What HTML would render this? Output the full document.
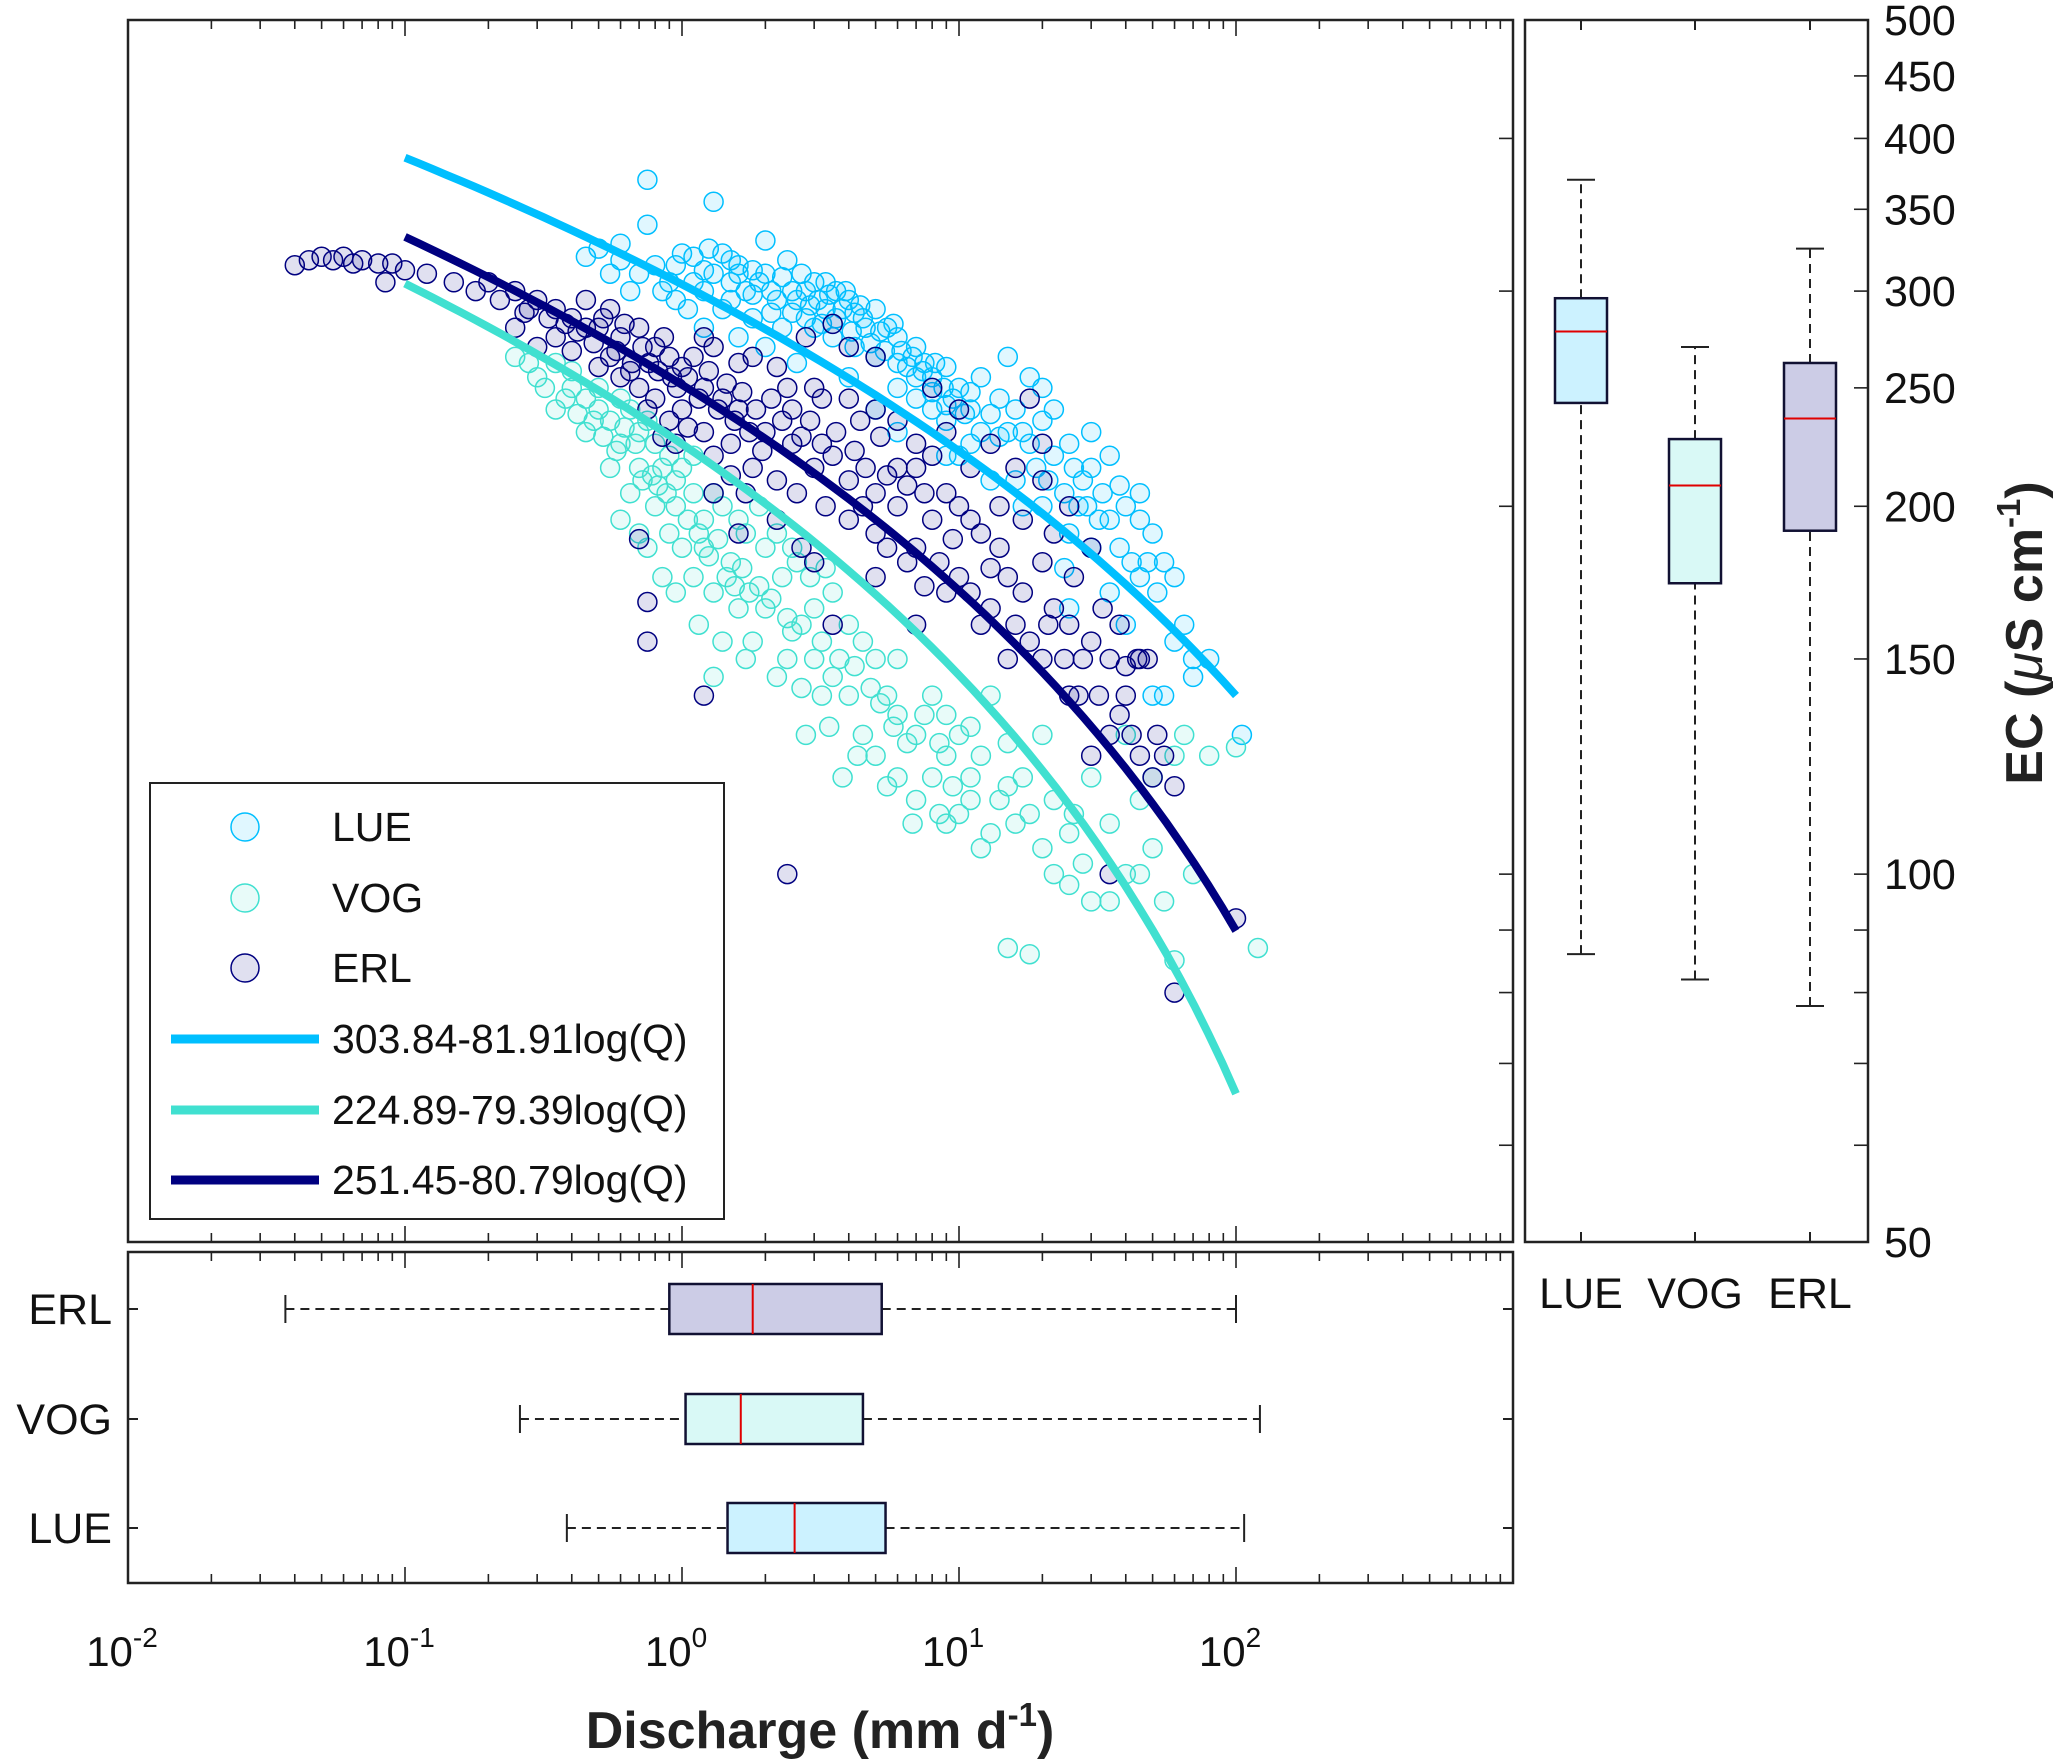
<!DOCTYPE html>
<html><head><meta charset="utf-8"><style>
html,body{margin:0;padding:0;background:#fff;}
svg{display:block;font-family:"Liberation Sans",Arial,sans-serif;}
</style></head><body>
<svg id="fig" width="2067" height="1763" viewBox="0 0 2067 1763" xmlns="http://www.w3.org/2000/svg"></svg>
<script>
// ---------- data ----------
const seriesNames = ["LUE","VOG","ERL"];
const seriesColors = ["#00BFFF","#40E0D0","#000080"];
const fitA = [303.84, 224.89, 251.45];
const fitB = [81.91, 79.39, 80.79];
const fitLabels = ["303.84-81.91log(Q)","224.89-79.39log(Q)","251.45-80.79log(Q)"];
const xTickExp = [-2,-1,0,1,2];
const ecTicks = [50,100,150,200,250,300,350,400,450,500];
const lue = [[0.75,370],[1.3,355],[0.75,340],[2,330],[0.45,320],[0.5,325],[0.6,318],[0.7,310],[0.8,315],[0.9,305],[1,322],[1.1,320],[1.2,300],[1.3,310],[1.5,305],[1.7,300],[2,310],[2.2,295],[2.5,300],[3,305],[3.3,290],[4,295],[4.5,285],[5,290],[1.4,290],[1.8,285],[2.3,280],[2.8,285],[3.5,275],[4.2,270],[5,265],[6,275],[6.5,260],[7,270],[8,255],[9,260],[10,250],[11,240],[12,255],[14,245],[15,230],[16,240],[18,225],[20,235],[22,220],[25,225],[28,210],[30,215],[33,205],[35,220],[40,200],[45,195],[50,190],[55,180],[60,175],[70,150],[80,150],[105,130],[70,145],[12,230],[9,235],[7,245],[6,250],[5,240],[10,220],[13,210],[17,200],[20,200],[25,190],[30,185],[35,170],[45,175],[40,160],[50,140],[18,255],[15,265],[20,250],[3,280],[2,270],[1.6,275],[4,255],[0.95,295],[0.65,300],[1.2,280],[2.6,262],[8,240],[11,225],[30,230],[45,205],[60,155],[55,140],[25,165],[35,195],[16,210],[9,220],[6,230],[1.6,315],[2.4,318],[3.6,300],[5.5,280],[7.5,262],
[1.4,322],[1.5,318],[1.6,310],[1.8,312],[1.9,305],[2.1,300],[2.3,308],[2.6,295],[2.8,300],[3.1,295],[3.4,298],[3.8,290],[4.2,288],[4.6,280],[5.2,278],[5.8,282],[6.2,268],[6.8,265],[7.4,258],[8.2,262],[8.8,250],[9.5,245],[10.5,238],[1.5,295],[1.8,298],[2.1,288],[2.5,288],[2.9,292],[3.2,282],[3.6,285],[4.1,278],[4.8,272],[5.4,268],[6,262],[7,255],[8,248],[9,242],[11,248],[13,238],[14,228],[17,230],[19,215],[21,210],[24,205],[27,200],[32,195],[38,185],[42,180],[1.1,305],[1.2,312],[0.85,300],[1.05,290],[2.7,310],[3.3,305],[3.9,300],[4.4,292],[0.55,310],[0.6,328],[0.95,315],[1.25,325],[22,240],[26,215],[29,200],[38,208],[48,180],[52,170],[65,160],[24,178]];
const vog = [[0.25,265],[0.3,255],[0.35,262],[0.4,250],[0.45,245],[0.5,240],[0.55,235],[0.6,245],[0.7,230],[0.8,225],[0.9,220],[1,215],[1.1,205],[0.6,225],[0.7,215],[0.8,200],[0.9,190],[1,185],[1.1,175],[1.3,170],[1.5,180],[1.2,195],[1.4,200],[1.7,190],[2,185],[2.3,175],[2.6,180],[3,165],[3.5,170],[4,160],[4.5,155],[2,165],[2.5,158],[3,150],[3.5,145],[4,140],[5,150],[5.5,140],[6,135],[7,130],[8,140],[9,125],[10,130],[11,120],[12,125],[14,115],[15,118],[16,110],[18,112],[20,105],[22,100],[25,108],[28,102],[30,95],[35,110],[40,100],[45,115],[50,120],[55,95],[60,125],[65,130],[80,125],[100,127],[120,87],[60,85],[70,100],[15,87],[18,86],[25,98],[12,105],[9,110],[6,120],[4.5,130],[3.2,140],[2.2,145],[1.8,155],[1.6,165],[5,125],[7,115],[8,120],[10,112],[13,140],[20,130],[30,120],[40,130],[0.35,240],[0.45,230],[0.55,215],[0.65,205],[0.75,185],[0.85,175],[1.2,185],[6,150],[3.8,120],[2.8,130],
[0.28,262],[0.32,250],[0.38,245],[0.42,238],[0.48,235],[0.52,228],[0.58,222],[0.62,232],[0.68,225],[0.72,210],[0.78,212],[0.82,208],[0.88,205],[0.95,200],[1.05,195],[1.15,190],[1.25,182],[1.35,188],[1.45,175],[1.55,172],[1.65,178],[1.75,170],[1.9,172],[2.1,168],[2.4,162],[2.7,160],[3.2,155],[3.7,150],[4.2,148],[4.8,142],[5.2,138],[5.8,132],[6.5,128],[7.5,135],[8.5,128],[9.5,118],[0.5,250],[0.4,258],[0.65,240],[0.75,235],[0.85,215],[0.95,210],[1.1,220],[1.3,205],[1.6,195],[1.9,200],[2.2,190],[2.5,185],[2.9,175],[3.3,178],[0.95,170],[1.15,160],[1.4,155],[1.7,150],[2.4,150],[2.7,142],[3.4,132],[4.3,125],[5.5,118],[6.8,110],[8.5,112],[11,115],[13,108],[17,120],[22,115],[26,112],[35,95],[45,100],[50,105],[9,135],[11,132],[15,128],[0.6,195],[0.7,190],[1.3,145]];
const erl = [[0.04,315],[0.045,318],[0.05,320],[0.055,318],[0.06,320],[0.065,316],[0.07,318],[0.08,316],[0.085,305],[0.09,316],[0.1,312],[0.12,310],[0.15,305],[0.18,300],[0.2,305],[0.22,295],[0.25,300],[0.28,290],[0.3,295],[0.35,290],[0.4,285],[0.45,295],[0.5,280],[0.55,290],[0.6,275],[0.7,280],[0.8,270],[0.9,265],[1,260],[0.5,260],[0.6,255],[0.7,250],[0.8,245],[0.9,235],[1,240],[1.2,250],[1.4,245],[1.6,240],[1.2,230],[1.5,225],[1.8,215],[2,230],[2.5,225],[3,215],[3.5,220],[4,210],[5,205],[6,200],[2.2,260],[3,250],[4,245],[5,240],[6,235],[7,225],[8,220],[9,205],[10,200],[11,195],[12,190],[14,185],[15,175],[17,170],[20,180],[22,165],[25,160],[28,150],[30,155],[35,150],[40,148],[45,150],[48,150],[40,140],[50,120],[55,125],[60,118],[35,130],[30,125],[25,140],[20,150],[15,150],[12,160],[9,170],[7,185],[5,190],[4,195],[3,180],[3.5,160],[0.7,188],[0.75,167],[0.75,155],[1.2,140],[2.4,100],[35,100],[60,80],[100,92],[8,250],[10,240],[13,225],[16,215],[20,210],[25,200],[30,185],[18,245],[20,225],[5,265],[4,270],[2.8,275],[3.5,282],[0.3,270],[0.35,275],[0.4,268],[0.25,280],[1.3,270],[1.8,265],[6,215],[8,195],[10,175],[13,165],[7,160],[5,175],
[0.42,278],[0.48,272],[0.52,285],[0.58,268],[0.62,282],[0.66,262],[0.72,270],[0.76,262],[0.82,258],[0.86,275],[0.92,255],[0.96,250],[1.05,255],[1.1,265],[1.15,245],[1.25,258],[1.35,240],[1.45,252],[1.55,235],[1.65,248],[1.75,230],[1.85,240],[1.95,222],[2.1,245],[2.3,235],[2.5,240],[2.7,228],[2.9,235],[3.2,225],[3.6,230],[4.2,222],[4.6,215],[5.5,212],[6.5,208],[7.5,205],[0.55,265],[0.65,258],[0.75,240],[0.85,228],[0.95,225],[1.05,232],[1.3,220],[1.5,212],[1.7,205],[2.2,210],[2.6,205],[3.3,200],[4.5,200],[5.5,185],[6.5,180],[7.5,172],[8.5,180],[9.5,188],[11,170],[13,178],[16,160],[18,155],[21,160],[24,150],[27,140],[32,140],[38,135],[42,130],[45,125],[52,130],[0.45,280],[0.38,282],[0.33,285],[0.27,288],[1.2,275],[1.6,262],[2.4,250],[3.2,245],[4.4,235],[5.2,228],[7,215],[9,230],[11,215],[14,200],[17,195],[22,190],[26,175],[33,165],[38,160],[44,150],[1.6,190],[2.2,195],[2.7,185],[1.3,205]];
// box stats [min, q1, median, q3, max]
const qBoxes = [[0.384,1.46,2.55,5.43,107],[0.26,1.03,1.63,4.5,122],[0.037,0.90,1.8,5.26,100]];
const ecBoxes = [[86,243,278,296,370],[82,173,208,227,270],[78,191,236,262,325]];
const boxFills = ["#CCF2FF","#D9F9F6","#CCCCE6"];

// ---------- layout ----------
const svg = document.getElementById('fig');
const NS = "http://www.w3.org/2000/svg";
const M = {l:128, r:1513, t:20, b:1242};
const B = {t:1252, b:1583};
const R = {l:1525, r:1868};
const xQ = q => M.l + (Math.log10(q)+2)*(M.r-M.l)/5;
const yEC = v => M.b - Math.log10(v/50)*(M.b-M.t);
const rowY = [1528,1419,1309];
const colX = [1581,1695,1810];

function mk(tag, attrs, parent){
  const e = document.createElementNS(NS, tag);
  for (const k in attrs) e.setAttribute(k, attrs[k]);
  (parent||svg).appendChild(e);
  return e;
}
function line(x1,y1,x2,y2,extra,p){ return mk('line',Object.assign({x1,y1,x2,y2,stroke:'#222','stroke-width':2},extra||{}),p); }

// ---------- main scatter ----------
const gMain = mk('g',{});


const clip = mk('clipPath',{id:'mc'}); mk('rect',{x:M.l,y:M.t,width:M.r-M.l,height:M.b-M.t},clip);
const pts = [lue, vog, erl];
pts.forEach((arr,si)=>{
  const g = mk('g',{'clip-path':'url(#mc)'},gMain);
  
  
  arr.forEach(p=>{
    const c = mk('circle',{cx:xQ(p[0]).toFixed(1),cy:yEC(p[1]).toFixed(1),r:9.5,fill:seriesColors[si],'fill-opacity':0.12,stroke:seriesColors[si],'stroke-width':1.5},g);
    
    
  });
});
// fits
fitA.forEach((a,si)=>{
  let d='';
  for(let i=0;i<=60;i++){ const lq=-1+3*i/60; const q=Math.pow(10,lq); const v=a-fitB[si]*lq; d+=(i?'L':'M')+xQ(q).toFixed(1)+','+yEC(v).toFixed(1); }
  const p = mk('path',{d,fill:'none',stroke:seriesColors[si],'stroke-width':8},gMain);
  
  
});
const mf = mk('rect',{x:M.l,y:M.t,width:M.r-M.l,height:M.b-M.t,fill:'none',stroke:'#222','stroke-width':2.5},gMain);



function xTicks(yTop, yBot){
  for(let e=-2;e<3;e++){
    for(let m=1;m<10;m++){
      const x = xQ(m*Math.pow(10,e)); const L = m===1?16:9;
      if (x> M.r) continue;
      line(x,yTop,x,yTop+L,{'stroke-width':1.6});
      line(x,yBot,x,yBot-L,{'stroke-width':1.6});
    }
  }
}
xTicks(M.t, M.b);
xTicks(B.t, B.b);
const mainTicks=[60,70,80,90,100,200,300,400];
mainTicks.forEach(v=>{ const y=yEC(v); line(M.r,y,M.r-14,y,{'stroke-width':1.6}); });
const ecMinor=[60,70,80,90,100,150,200,250,300,350,400,450];
ecMinor.forEach(v=>{ const y=yEC(v); line(R.r,y,R.r-14,y,{'stroke-width':1.6}); });

// legend
const gL = mk('g',{});


mk('rect',{x:150,y:783,width:574,height:436,fill:'#fff',stroke:'#222','stroke-width':2},gL);
const legY=[827,898,968,1039,1110,1180];
seriesNames.forEach((n,i)=>{
  const c=mk('circle',{cx:245,cy:legY[i],r:14,fill:seriesColors[i],'fill-opacity':0.12,stroke:seriesColors[i],'stroke-width':1.5},gL);
  
  
  const t=mk('text',{x:332,y:legY[i]+14,'font-size':41,fill:'#111'},gL); t.textContent=n;
  
  
});
fitLabels.forEach((s,i)=>{
  const y=legY[i+3];
  const l=line(171,y,319,y,{stroke:seriesColors[i],'stroke-width':9},gL);
  
  
  const t=mk('text',{x:332,y:y+14,'font-size':41,fill:'#111'},gL); t.textContent=s;
  
  
});

// ---------- bottom boxplot ----------
const gB = mk('g',{});


qBoxes.forEach((b,i)=>{
  const y=rowY[i], h=25;
  line(xQ(b[0]),y,xQ(b[1]),y,{'stroke-dasharray':'9,6','stroke-width':2},gB);
  line(xQ(b[3]),y,xQ(b[4]),y,{'stroke-dasharray':'9,6','stroke-width':2},gB);
  line(xQ(b[0]),y-14,xQ(b[0]),y+14,{},gB);
  line(xQ(b[4]),y-14,xQ(b[4]),y+14,{},gB);
  const r=mk('rect',{x:xQ(b[1]),y:y-h,width:xQ(b[3])-xQ(b[1]),height:2*h,fill:boxFills[i],stroke:'#111133','stroke-width':2.5},gB);
  
  
  line(xQ(b[2]),y-h,xQ(b[2]),y+h,{stroke:'#E00000','stroke-width':2},gB);
  line(M.l,y,M.l+10,y,{},gB); line(M.r,y,M.r-10,y,{},gB);
  const t=mk('text',{x:112,y:y+15,'font-size':43,'text-anchor':'end',fill:'#111'},gB); t.textContent=seriesNames[i];
  
  
});
mk('rect',{x:M.l,y:B.t,width:M.r-M.l,height:B.b-B.t,fill:'none',stroke:'#222','stroke-width':2.5},gB);
xTickExp.forEach(e=>{
  const t=mk('text',{x:xQ(Math.pow(10,e))-6,y:1666,'font-size':42,'text-anchor':'middle',fill:'#111'},gB);
  t.innerHTML='10<tspan dy="-19" font-size="28">'+e+'</tspan>';
  
  
});
const xt=mk('text',{x:820,y:1748,'font-size':52,'font-weight':'bold','text-anchor':'middle',fill:'#222'});
xt.innerHTML='Discharge (mm d<tspan dy="-22" font-size="33">-1</tspan><tspan dy="22">)</tspan>';



// ---------- right boxplot ----------
const gR = mk('g',{});


ecBoxes.forEach((b,i)=>{
  const x=colX[i], w=26;
  line(x,yEC(b[0]),x,yEC(b[1]),{'stroke-dasharray':'9,6','stroke-width':2},gR);
  line(x,yEC(b[3]),x,yEC(b[4]),{'stroke-dasharray':'9,6','stroke-width':2},gR);
  line(x-14,yEC(b[0]),x+14,yEC(b[0]),{},gR);
  line(x-14,yEC(b[4]),x+14,yEC(b[4]),{},gR);
  const r=mk('rect',{x:x-w,y:yEC(b[3]),width:2*w,height:yEC(b[1])-yEC(b[3]),fill:boxFills[i],stroke:'#111133','stroke-width':2.5},gR);
  
  
  line(x-w,yEC(b[2]),x+w,yEC(b[2]),{stroke:'#E00000','stroke-width':2},gR);
  line(x,M.t,x,M.t+10,{},gR); line(x,M.b,x,M.b-10,{},gR);
  const t=mk('text',{x:x,y:1308,'font-size':43,'text-anchor':'middle',fill:'#111'},gR); t.textContent=seriesNames[i];
  
  
});
mk('rect',{x:R.l,y:M.t,width:R.r-R.l,height:M.b-M.t,fill:'none',stroke:'#222','stroke-width':2.5},gR);
ecTicks.forEach(v=>{
  const t=mk('text',{x:1884,y:yEC(v)+15,'font-size':43,fill:'#111'},gR); t.textContent=v;
  
  
});
const yt=mk('text',{x:0,y:0,'font-size':52,'font-weight':'bold','text-anchor':'middle',fill:'#222',transform:'translate(2042,633) rotate(-90)'});
yt.innerHTML='EC (<tspan font-style="italic" font-weight="normal">μ</tspan>S cm<tspan dy="-22" font-size="33">-1</tspan><tspan dy="22">)</tspan>';


</script>
</body></html>
